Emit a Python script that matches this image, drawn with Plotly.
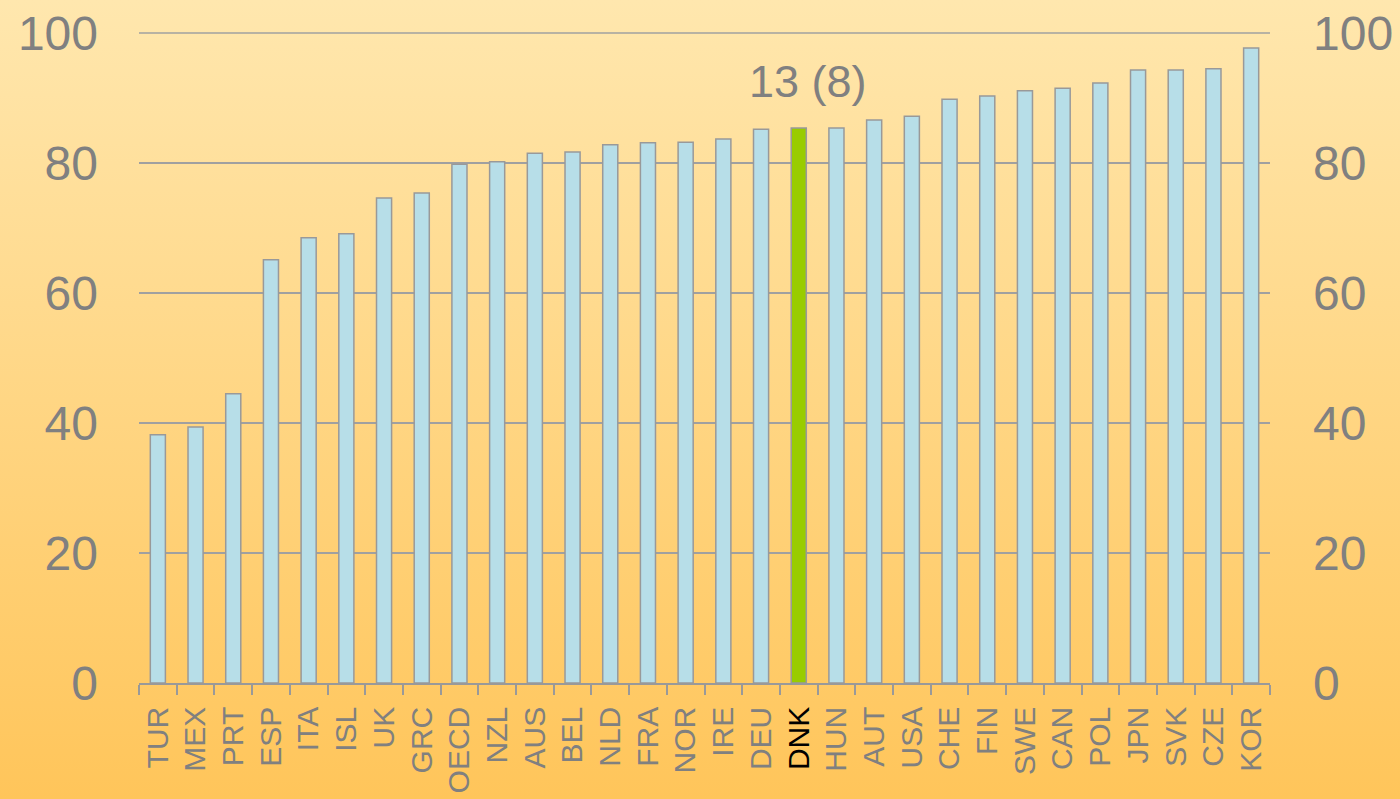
import base64
import plotly.graph_objects as go

countries = ["TUR", "MEX", "PRT", "ESP", "ITA", "ISL", "UK", "GRC", "OECD", "NZL",
             "AUS", "BEL", "NLD", "FRA", "NOR", "IRE", "DEU", "DNK", "HUN", "AUT",
             "USA", "CHE", "FIN", "SWE", "CAN", "POL", "JPN", "SVK", "CZE", "KOR"]
values = [38.2, 39.4, 44.5, 65.1, 68.5, 69.1, 74.6, 75.4, 79.8, 80.2,
          81.5, 81.7, 82.8, 83.1, 83.2, 83.7, 85.2, 85.4, 85.4, 86.6,
          87.2, 89.8, 90.3, 91.1, 91.5, 92.3, 94.3, 94.3, 94.5, 97.7]
highlight = "DNK"
annotation_text = "13 (8)"
annotation_y = 92.3
y_ticks = [0, 20, 40, 60, 80, 100]

W, H = 1400, 799
ML, MR, MT, MB = 139, 130, 33, 116
PW, PH = W - ML - MR, H - MT - MB

bar_colors = ["#99CC00" if c == highlight else "#B7DEE8" for c in countries]
tick_text = [f'<span style="color:black">{c}</span>' if c == highlight else c for c in countries]

svg = (f'<svg xmlns="http://www.w3.org/2000/svg" width="{W}" height="{H}" '
       f'viewBox="0 0 {W} {H}" preserveAspectRatio="none">'
       '<defs><linearGradient id="g" x1="0" y1="0" x2="0" y2="1">'
       '<stop offset="0" stop-color="#FFE7AE"/>'
       '<stop offset="1" stop-color="#FFC55A"/>'
       '</linearGradient></defs>'
       f'<rect width="{W}" height="{H}" fill="url(#g)"/></svg>')
svg_uri = "data:image/svg+xml;base64," + base64.b64encode(svg.encode()).decode()

fig = go.Figure()
fig.add_trace(go.Bar(
    x=countries, y=values,
    marker=dict(color=bar_colors, line=dict(color="#999999", width=1.5)),
    hoverinfo="x+y",
))
fig.add_trace(go.Scatter(
    x=countries, y=values, yaxis="y2", mode="markers",
    marker=dict(opacity=0), hoverinfo="skip", showlegend=False,
))

gray = "#808080"
fig.update_layout(
    width=W, height=H,
    margin=dict(l=ML, r=MR, t=MT, b=MB, autoexpand=False),
    paper_bgcolor="#FFD683",
    plot_bgcolor="rgba(0,0,0,0)",
    showlegend=False,
    bargap=0.6,
    font=dict(family="Liberation Sans, Arial, sans-serif", color=gray),
    images=[dict(
        source=svg_uri, xref="paper", yref="paper",
        x=-ML / PW, y=1 + MT / PH, sizex=W / PW, sizey=H / PH,
        xanchor="left", yanchor="top", sizing="stretch", layer="below",
    )],
    shapes=[dict(
        type="line", xref="paper", yref="paper", x0=0, x1=1, y0=1, y1=1,
        line=dict(color="#A0A0A0", width=1.5), layer="above",
    )],
    xaxis=dict(
        type="category", automargin=False,
        tickmode="array", tickvals=countries, ticktext=tick_text,
        tickangle=-90, tickson="boundaries",
        ticks="outside", ticklen=10, tickwidth=1.5, tickcolor="#999999",
        showline=True, linecolor="#999999", linewidth=1.5,
        showgrid=False, ticklabelstandoff=10,
        tickfont=dict(size=30, color=gray),
        range=[-0.5, len(countries) - 0.5],
    ),
    yaxis=dict(
        range=[0, 100], tickvals=y_ticks, automargin=False,
        showgrid=True, gridcolor="#A0A0A0", gridwidth=1.5,
        zeroline=False, showline=False, ticks="",
        tickfont=dict(size=48, color=gray), ticklabelstandoff=40,
    ),
    yaxis2=dict(
        range=[0, 100], tickvals=y_ticks, overlaying="y", side="right",
        automargin=False,
        showgrid=False, zeroline=False, showline=False, ticks="",
        tickfont=dict(size=48, color=gray), ticklabelstandoff=42,
    ),
    annotations=[dict(
        x=highlight, y=annotation_y, xref="x", yref="y", text=annotation_text,
        showarrow=False, xshift=9, yshift=2, font=dict(size=45, color=gray),
    )],
)

fig.write_html(
    "out.html",
    config={"displayModeBar": False},
    post_script="document.body.style.margin='0';document.body.style.overflow='hidden';",
)
